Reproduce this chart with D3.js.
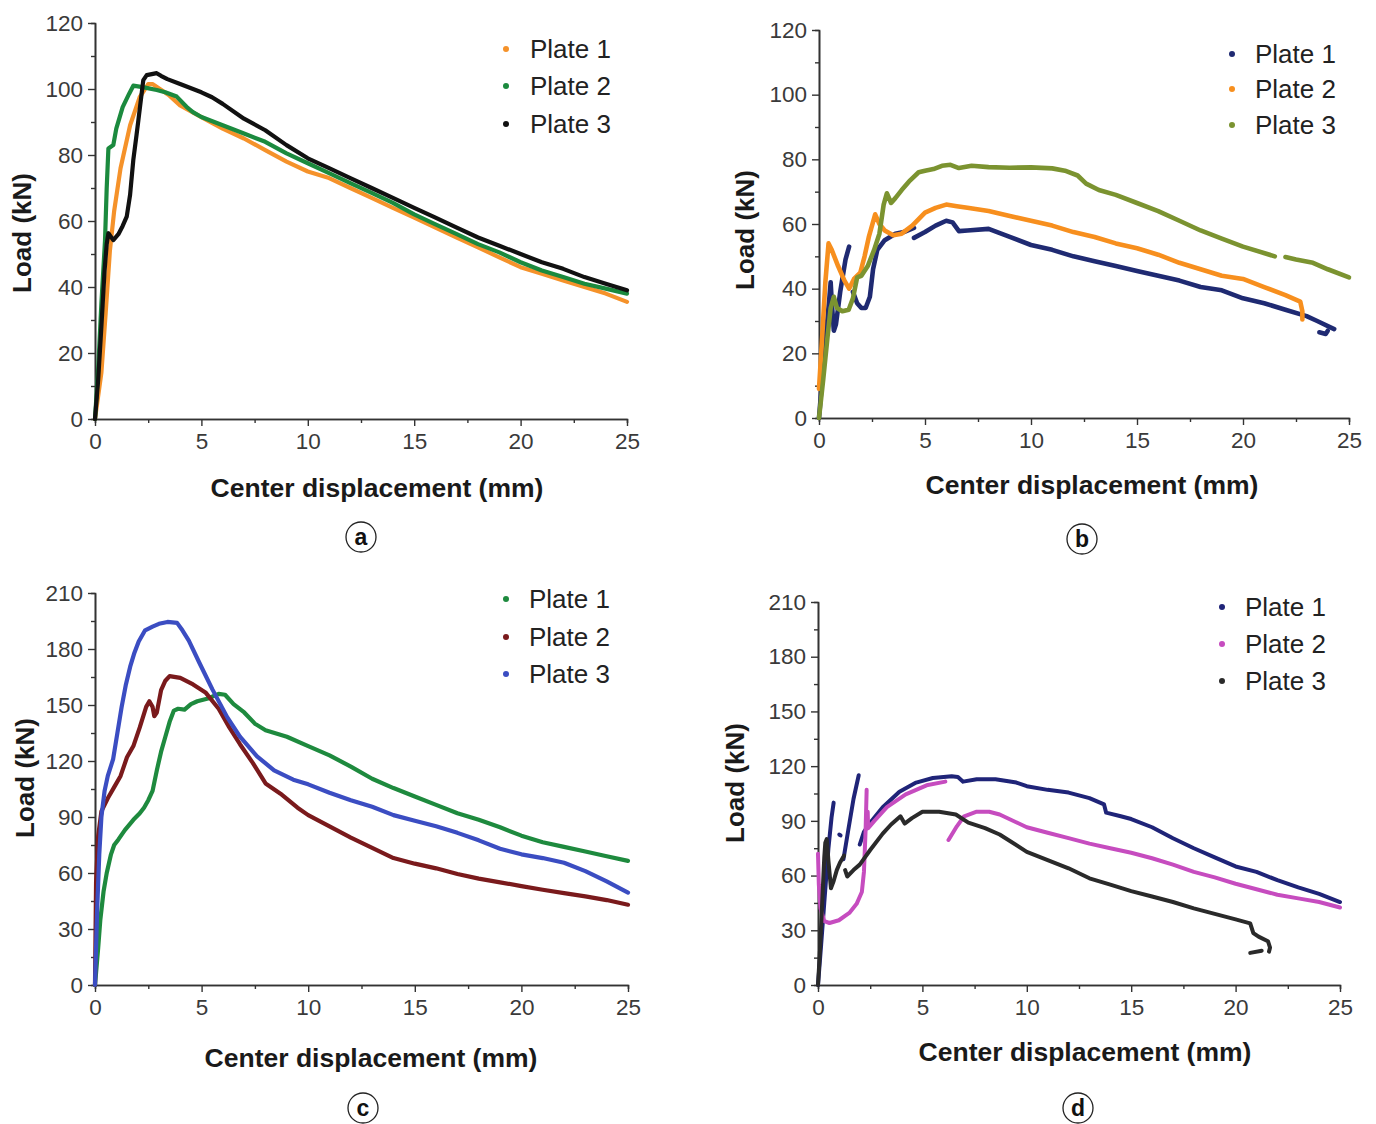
<!DOCTYPE html>
<html>
<head>
<meta charset="utf-8">
<script src="https://cdn.jsdelivr.net/npm/d3@7"></script>
<style>
body{margin:0;background:#fff;}
text{font-family:"Liberation Sans",Arial,sans-serif;}
</style>
</head>
<body>
<script>
var W = 1376, H = 1124;

// ticks
var xTicks = [0,5,10,15,20,25];
var xMinor = [2.5,7.5,12.5,17.5,22.5];
var yTicks120 = [0,20,40,60,80,100,120];
var yMinor120 = [10,30,50,70,90,110];
var yTicks210 = [0,30,60,90,120,150,180,210];
var yMinor210 = [15,45,75,105,135,165,195];
var plateNames = ["Plate 1","Plate 2","Plate 3"];

// panel a  (mm, kN)
var aPlate1 = [[[0,0],[0.3,14],[0.5,32],[0.7,51],[0.9,63],[1.2,76],[1.65,89],[2.1,97.5],[2.5,101.5],[2.7,101.5],[3.05,100],[3.5,98],[4,95],[5,91.5],[6,88],[7,85],[8,81.5],[9,78],[10,75],[11,73],[12,70],[13,67],[14,64],[15,61],[16,58],[17,55],[18,52],[19,49],[20,46],[21,44],[22,42],[23,40],[24,38],[25,35.5]]];
var aPlate2 = [[[0,0],[0.15,15],[0.3,35],[0.47,54],[0.55,70],[0.63,82],[0.86,83],[1.0,88],[1.3,94.5],[1.6,98.5],[1.8,101],[2.3,100.5],[2.9,99.7],[3.3,99],[3.84,97.7],[4.3,94.6],[4.6,93],[5,91.5],[6,89],[7,86.5],[8,84],[9,80.5],[10,77.5],[11,74.5],[12,71.5],[13,68.5],[14,65.5],[15,62],[16,59],[17,56],[18,53],[19,50.5],[20,47.5],[21,45],[22,43],[23,41],[24,39.5],[25,38]]];
var aPlate3 = [[[0,0],[0.15,12],[0.3,28],[0.45,45],[0.55,53],[0.63,56.3],[0.86,54.2],[1.1,56],[1.3,58.5],[1.49,61.3],[1.65,68],[1.8,78.5],[1.95,86],[2.04,90.6],[2.27,102.7],[2.43,104.2],[2.9,104.8],[3.1,104],[3.4,103],[4,101.5],[5,99],[5.5,97.5],[6,95.5],[7,91],[8,87.5],[9,83],[10,79],[11,76],[12,73],[13,70],[14,67],[15,64],[16,61],[17,58],[18,55],[19,52.5],[20,50],[21,47.5],[22,45.5],[23,43],[24,41],[25,39]]];

// panel b
var bPlate1 = [
  [[0,0],[0.25,20],[0.5,38],[0.55,42],[0.6,36],[0.7,27],[0.8,29],[1.0,39],[1.25,49],[1.42,53]],
  [[1.6,39],[1.8,35.5],[2.0,34],[2.2,34],[2.4,37.5],[2.55,46],[2.75,52],[3.1,55],[3.6,57],[4.0,57.5],[4.48,58.8]],
  [[4.48,55.7],[5.0,57.5],[5.5,59.5],[6.0,61],[6.3,60.5],[6.6,57.8],[7,58],[8,58.5],[9,56],[10,53.5],[11,52],[12,50],[13,48.5],[14,47],[15,45.5],[16,44],[17,42.5],[18,40.5],[19,39.5],[20,37],[21,35.5],[22,33.5],[23,31.5],[23.5,30],[24.3,27.5]],
  [[23.6,26.5],[23.9,26],[24.0,27]]
];
var bPlate2 = [[[0,9],[0.15,25],[0.3,42],[0.45,54],[0.6,52],[0.9,47],[1.2,42.5],[1.42,40],[1.65,43],[1.95,45],[2.15,50],[2.35,56],[2.65,63],[2.85,60],[3.1,58],[3.5,56.5],[3.9,57],[4.4,59.5],[5.0,63.5],[5.5,65],[6.0,66],[6.5,65.5],[7,65],[8,64],[9,62.5],[10,61],[11,59.5],[12,57.5],[13,56],[14,54],[15,52.5],[16,50.5],[17,48],[18,46],[19,44],[20,43],[21,40.5],[22,38],[22.7,36],[22.8,33],[22.8,30.5]]];
var bPlate3 = [
  [[0,0],[0.2,12],[0.4,25],[0.55,34],[0.7,37.5],[0.85,34],[1.1,33],[1.4,33.5],[1.6,37],[1.8,43.5],[2.0,44],[2.3,47],[2.6,52],[2.85,57],[3.05,66],[3.2,69.5],[3.4,66.5],[3.6,68],[3.9,70.5],[4.3,73.5],[4.7,76],[5.0,76.5],[5.4,77],[5.8,78],[6.2,78.3],[6.6,77.3],[7.2,78],[8,77.6],[9,77.4],[10,77.5],[11,77.2],[11.6,76.5],[12.2,75],[12.6,72.5],[13.2,70.5],[14,69],[15,66.5],[16,64],[17,61],[18,58],[19,55.5],[20,53],[21.5,50]],
  [[22.0,49.8],[22.5,49],[23.3,48],[24,46],[25,43.5]]
];

// panel c
var cPlate1 = [[[0,0],[0.15,20],[0.25,35],[0.4,50],[0.55,60],[0.75,70],[0.9,75],[1.1,78],[1.4,83],[1.8,88.5],[2.1,92],[2.3,95],[2.5,99],[2.7,104],[2.9,115],[3.1,125],[3.3,133],[3.5,141],[3.7,147],[3.9,148],[4.2,147.5],[4.5,150.5],[4.8,152],[5.3,153.5],[5.8,156],[6.1,155.5],[6.5,150.5],[7,146],[7.5,140],[8,136.5],[9,133],[10,128],[11,123],[12,117],[13,110.5],[14,105.5],[15,101],[16,96.5],[17,92],[18,88.5],[19,84.5],[20,80],[21,76.5],[22,74],[23,71.5],[24,69],[25,66.5]]];
var cPlate2 = [[[0,0],[0.05,55],[0.15,80],[0.3,93],[0.6,100],[0.9,106],[1.2,112],[1.5,122],[1.8,128],[2.1,138],[2.4,149],[2.55,152],[2.7,149],[2.78,144],[2.9,146],[3.1,158],[3.3,163],[3.5,165.5],[4.0,164.5],[4.6,161],[5.2,156.5],[5.8,148],[6.3,138],[6.8,129],[7.4,119],[8,108],[8.7,102.5],[9.5,95],[10,91],[11,85],[12,79],[13,73.5],[14,68],[15,65],[16,62.5],[17,59.5],[18,57],[19,55],[20,53],[21,51],[22,49.2],[23,47.5],[24,45.5],[25,43]]];
var cPlate3 = [[[0,0],[0.1,40],[0.2,70],[0.3,90],[0.45,104],[0.6,112],[0.85,121],[1.05,135],[1.25,149],[1.45,161],[1.65,170.5],[1.85,178],[2.05,184],[2.35,190],[2.7,192],[3.0,193.5],[3.4,194.5],[3.85,194],[4.1,190],[4.4,184.5],[4.9,172.5],[5.5,158.5],[6.2,143.5],[6.8,133],[7.6,122.5],[8.4,115],[9.3,110],[10,107.5],[11,103],[12,99],[13,95.5],[14,91],[15,88],[16,85],[17,81.5],[18,77.5],[19,73],[20,70],[21,68],[22,65.5],[23,61],[24,55.5],[25,49.5]]];

// panel d
var dPlate1 = [
  [[0,0],[0.15,22],[0.3,45],[0.5,75],[0.65,92],[0.75,100]],
  [[1.02,82.5],[1.08,82]],
  [[1.22,69],[1.45,85],[1.7,102],[1.95,115]],
  [[2.0,77],[2.2,84],[2.5,89],[3.1,97.5],[3.9,106],[4.7,111],[5.5,113.5],[6.4,114.5],[6.7,114],[6.95,111.5],[7.6,112.8],[8.5,112.8],[9.5,111],[10,109],[11,107],[12,105.5],[13,102.5],[13.7,99],[13.8,94.5],[14.5,92.5],[15,91],[16,86.5],[17,80.5],[18,75],[19,70],[20,65],[21,62],[22,57.5],[23,53.5],[24,50],[25,45.5]]
];
var dPlate2 = [
  [[0,72],[0.04,55],[0.12,42],[0.3,35],[0.55,34],[1.0,35.5],[1.5,39.5],[1.85,44.5],[2.1,51],[2.2,62],[2.28,85],[2.33,107]],
  [[2.38,95],[2.4,86],[2.7,90],[3.3,97.5],[4.2,104.5],[5.2,109.5],[6.1,111.5]],
  [[6.25,79.5],[6.65,87],[7.0,92.5],[7.6,95],[8.2,95],[8.7,93.5],[10,86.5],[11,83.5],[12,80.5],[13,77.5],[14,75],[15,72.5],[16,69.5],[17,66],[18,62],[19,59],[20,55.5],[21,52.5],[22,49.5],[23,47.5],[24,45.5],[25,42.5]]
];
var dPlate3 = [
  [[0,0],[0.1,20],[0.2,45],[0.3,70],[0.35,78],[0.42,80],[0.5,68],[0.62,53],[0.75,57],[0.9,63],[1.05,67],[1.25,71]],
  [[1.3,63],[1.4,59.5],[1.7,63],[2.0,66],[2.5,74],[3.1,83],[3.5,88],[3.8,91],[3.95,92.5],[4.15,88.5],[4.5,91.5],[5.0,95],[5.8,95],[6.6,93.5],[7.2,89],[8,86],[8.7,82.5],[10,73],[11,68.5],[12,64],[13,58.5],[14,55],[15,51.5],[16,48.5],[17,45.5],[18,42],[19,39],[20,36],[20.7,33.8],[20.85,28.5],[21.1,26.5],[21.55,24],[21.65,20.5],[21.6,18.3]],
  [[20.7,17.6],[21.25,18.8]]
];

var panels = [
  {l:95, r:627, b:419, t:23, ymax:120, yT:yTicks120, yM:yMinor120, titleX:377, titleY:488, labX:22, labY:233,
   legDot:506, legTxt:530, legY:[49,86,124], tag:"a", tagX:361, tagY:537,
   series:[aPlate1,aPlate2,aPlate3], colors:["#f5922a","#1b8a3e","#111111"], lw:4.2},
  {l:819, r:1349, b:418, t:30, ymax:120, yT:yTicks120, yM:yMinor120, titleX:1092, titleY:485, labX:745, labY:230,
   legDot:1232, legTxt:1255, legY:[54,89,125], tag:"b", tagX:1082, tagY:539,
   series:[bPlate1,bPlate2,bPlate3], colors:["#1f2a72","#f78f1e","#7b9330"], lw:4.6},
  {l:95, r:628, b:985, t:593, ymax:210, yT:yTicks210, yM:yMinor210, titleX:371, titleY:1058, labX:25, labY:778,
   legDot:506, legTxt:529, legY:[599,637,674], tag:"c", tagX:363, tagY:1108,
   series:[cPlate1,cPlate2,cPlate3], colors:["#1e8a3e","#7a1a1c","#3b4dc2"], lw:4.2},
  {l:818, r:1340, b:985, t:602, ymax:210, yT:yTicks210, yM:yMinor210, titleX:1085, titleY:1052, labX:735, labY:783,
   legDot:1222, legTxt:1245, legY:[607,644,681], tag:"d", tagX:1078, tagY:1108,
   series:[dPlate1,dPlate2,dPlate3], colors:["#1f2478","#c64cbf","#2a2a2a"], lw:4}
];

var svg = d3.select("body").append("svg")
  .attr("width", W)
  .attr("height", H)

panels.forEach(function(p){
  var x = d3.scaleLinear().domain([0,25]).range([p.l,p.r]);
  var y = d3.scaleLinear().domain([0,p.ymax]).range([p.b,p.t]);
  var g = svg.append("g");

  // minor ticks
  g.append("g").attr("transform","translate(0,"+p.b+")")
    .call(d3.axisBottom(x).tickValues(xMinor).tickSize(4).tickFormat(""));
  g.append("g").attr("transform","translate("+p.l+",0)")
    .call(d3.axisLeft(y).tickValues(p.yM).tickSize(4).tickFormat(""));

  // main axes
  g.append("g").attr("transform","translate(0,"+p.b+")")
    .call(d3.axisBottom(x).tickValues(xTicks).tickSize(7).tickSizeOuter(0).tickPadding(7));
  g.append("g").attr("transform","translate("+p.l+",0)")
    .call(d3.axisLeft(y).tickValues(p.yT).tickSize(7).tickSizeOuter(0).tickPadding(5));

  g.selectAll(".domain").attr("stroke","#333").attr("stroke-width",1.6);
  g.selectAll(".tick line").attr("stroke","#333").attr("stroke-width",1.4);
  g.selectAll(".tick text").attr("fill","#3a3a3a").style("font-size","22.5px")
    .style("font-family","'Liberation Sans',Arial,sans-serif");

  // curves
  var line = d3.line().x(function(d){return x(d[0]);}).y(function(d){return y(d[1]);});
  p.series.forEach(function(segs,i){
    g.append("g").selectAll("path")
      .data(segs)
      .enter()
      .append("path")
      .attr("d", line)
      .style("fill","none")
      .style("stroke", p.colors[i])
      .style("stroke-width", p.lw)
      .style("stroke-linejoin","round")
      .style("stroke-linecap","round")
  });

  // legend
  plateNames.forEach(function(n,i){
    g.append("circle").attr("cx",p.legDot).attr("cy",p.legY[i]).attr("r",3).style("fill",p.colors[i]);
    g.append("text").attr("x",p.legTxt).attr("y",p.legY[i]).attr("dy","0.35em")
      .style("font-size","26px").style("fill","#222").text(n);
  });

  // axis titles
  g.append("text").attr("x",p.titleX).attr("y",p.titleY).attr("dy","0.35em")
    .attr("text-anchor","middle").style("font-weight","bold").style("font-size","26.5px").style("fill","#1a1a1a")
    .text("Center displacement (mm)");
  g.append("text").attr("transform","translate("+p.labX+","+p.labY+") rotate(-90)").attr("dy","0.35em")
    .attr("text-anchor","middle").style("font-weight","bold").style("font-size","26px").style("fill","#1a1a1a")
    .text("Load (kN)");

  // panel tag
  g.append("circle").attr("cx",p.tagX).attr("cy",p.tagY).attr("r",15)
    .style("fill","none").style("stroke","#222").style("stroke-width",1.3);
  g.append("text").attr("x",p.tagX).attr("y",p.tagY).attr("dy","0.35em").attr("text-anchor","middle")
    .style("font-weight","bold").style("font-size","23px").style("fill","#111").text(p.tag);
});
</script>
</body>
</html>
